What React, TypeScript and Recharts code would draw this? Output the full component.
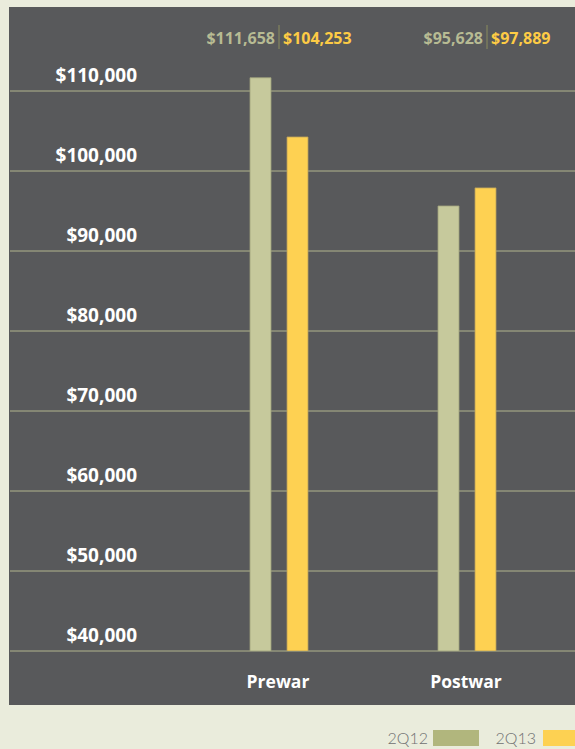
import React from 'react';
import { BarChart, Bar, XAxis, YAxis, CartesianGrid, LabelList } from 'recharts';

const categories = ['Prewar', 'Postwar'];
const series2Q12 = [111658, 95628];
const series2Q13 = [104253, 97889];
const seriesNames = ['2Q12', '2Q13'];
const yTicks = [40000, 50000, 60000, 70000, 80000, 90000, 100000, 110000];

const data = categories.map((c, i) => ({ cat: c, a: series2Q12[i], b: series2Q13[i] }));

const BAR_SIZE = 21;
const GAP = 16;
const SEP_SHIFT = [0, 20];
const FONT = '"Open Sans", sans-serif';
const GREEN = '#c6c99c';
const YELLOW = '#fed152';
const GREEN_TXT = '#b7bb93';
const YELLOW_TXT = '#fdcb45';

const fmt = (v: number) => '$' + Number(v).toLocaleString('en-US');

const YTick = (props: any) => {
  const { y, payload } = props;
  return (
    <text x={137} y={Number(y) - 9} textAnchor="end" fill="#ffffff" fontSize={19} fontWeight={700} fontFamily={FONT}>
      {fmt(payload.value)}
    </text>
  );
};

const XTick = (props: any) => {
  const { x, payload } = props;
  return (
    <text x={Number(x) - 1} y={688} textAnchor="middle" fill="#ffffff" fontSize={17.5} fontWeight={700} fontFamily={FONT}>
      {payload.value}
    </text>
  );
};

const GreenLabel = (props: any) => {
  const { x, width, index, value } = props;
  const sep = Number(x) + Number(width) + GAP / 2 + SEP_SHIFT[index];
  return (
    <g>
      <text x={sep - 4} y={43.5} textAnchor="end" fill={GREEN_TXT} fontSize={16} fontWeight={700} fontFamily={FONT}>
        {fmt(value)}
      </text>
      <line x1={sep} x2={sep} y1={25} y2={49} stroke="#8a8d5e" strokeWidth={1} />
    </g>
  );
};

const YellowLabel = (props: any) => {
  const { x, index, value } = props;
  const sep = Number(x) - GAP / 2 + SEP_SHIFT[index];
  return (
    <text x={sep + 4} y={43.5} textAnchor="start" fill={YELLOW_TXT} fontSize={16} fontWeight={700} fontFamily={FONT}>
      {fmt(value)}
    </text>
  );
};

const LegendBlock = () => {
  const colors = ['#b1b67d', '#fdd152'];
  const textRight = [428, 536];
  const boxLeft = [433, 543];
  return (
    <div style={{ position: 'absolute', left: 0, top: 727, width: 575, height: 22 }}>
      {seriesNames.map((n, i) => (
        <React.Fragment key={n}>
          <span
            style={{
              position: 'absolute',
              right: 575 - textRight[i],
              top: 1,
              fontFamily: 'Lato, sans-serif',
              fontWeight: 300,
              fontSize: 16,
              color: '#6f7072',
              lineHeight: '20px',
            }}
          >
            {n}
          </span>
          <span
            style={{
              position: 'absolute',
              left: boxLeft[i],
              top: 3,
              width: 46,
              height: 16,
              background: colors[i],
            }}
          />
        </React.Fragment>
      ))}
    </div>
  );
};

export default function App() {
  return (
    <div style={{ position: 'absolute', left: 0, top: 0, width: 575, height: 749, background: '#eaecdc', overflow: 'hidden' }}>
      <div style={{ position: 'absolute', left: 9, top: 7, width: 566, height: 698, background: '#58595b' }} />
      <div style={{ position: 'absolute', left: 0, top: 0 }}>
        <BarChart
          width={575}
          height={749}
          data={data}
          margin={{ top: 11, right: 0, left: 0, bottom: 58 }}
          barSize={BAR_SIZE}
          barGap={GAP}
        >
          <CartesianGrid horizontal vertical={false} stroke="#b1b58e" strokeWidth={1} horizontalValues={yTicks} />
          <XAxis
            dataKey="cat"
            axisLine={false}
            tickLine={false}
            height={40}
            padding={{ left: 175, right: 14 }}
            tick={<XTick />}
            interval={0}
          />
          <YAxis
            width={10}
            domain={[40000, 120000]}
            ticks={yTicks}
            axisLine={false}
            tickLine={false}
            tick={<YTick />}
            allowDataOverflow
            interval={0}
          />
          <Bar dataKey="a" name={seriesNames[0]} fill={GREEN} stroke="#9fa27c" strokeWidth={0.8} isAnimationActive={false}>
            <LabelList dataKey="a" content={<GreenLabel />} />
          </Bar>
          <Bar dataKey="b" name={seriesNames[1]} fill={YELLOW} stroke="#b9a05a" strokeWidth={0.8} isAnimationActive={false}>
            <LabelList dataKey="b" content={<YellowLabel />} />
          </Bar>
        </BarChart>
      </div>
      <LegendBlock />
    </div>
  );
}
